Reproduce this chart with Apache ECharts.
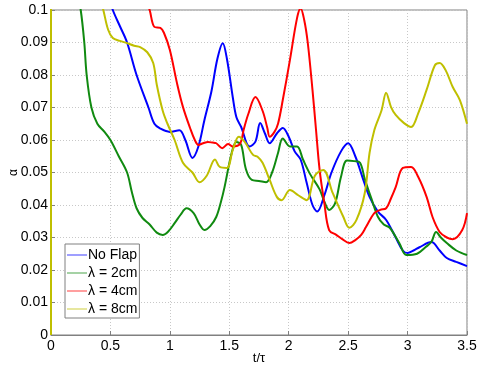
<!DOCTYPE html>
<html><head><meta charset="utf-8">
<script src="https://cdn.jsdelivr.net/npm/echarts@6/dist/echarts.min.js"></script>
<style>html,body{margin:0;padding:0;background:#fff}#c{width:477px;height:370px}</style>
</head><body><div id="c"></div>
<script>
const seriesNames = ['No Flap', 'λ = 2cm', 'λ = 4cm', 'λ = 8cm'];
const xTicks = [0, 0.5, 1, 1.5, 2, 2.5, 3, 3.5];
const yTicks = [0, 0.01, 0.02, 0.03, 0.04, 0.05, 0.06, 0.07, 0.08, 0.09, 0.1];

const tNoFlap = [0,0.45,0.52,0.58,0.64,0.72,0.82,0.87,0.92,1.0,1.08,1.13,1.19,1.24,1.29,1.35,1.40,1.445,1.48,1.53,1.56,1.60,1.67,1.72,1.76,1.80,1.84,1.90,1.95,2.0,2.05,2.10,2.15,2.20,2.24,2.30,2.36,2.44,2.50,2.56,2.62,2.68,2.75,2.82,2.90,2.96,3.0,3.05,3.1,3.2,3.27,3.33,3.41,3.5];
const vNoFlap = [0.13,0.108,0.1,0.095,0.09,0.08,0.07,0.065,0.0635,0.0625,0.063,0.06,0.0545,0.058,0.066,0.075,0.085,0.0898,0.085,0.073,0.067,0.064,0.058,0.0595,0.0652,0.062,0.059,0.062,0.0637,0.061,0.0565,0.054,0.047,0.04,0.038,0.043,0.05,0.0565,0.059,0.055,0.0486,0.0425,0.038,0.0354,0.030,0.026,0.0252,0.026,0.027,0.0286,0.026,0.0237,0.0225,0.0212];

const t2cm = [0,0.2,0.25,0.28,0.30,0.34,0.39,0.45,0.5,0.57,0.64,0.68,0.72,0.77,0.83,0.89,0.94,0.99,1.04,1.09,1.14,1.2,1.25,1.29,1.34,1.39,1.43,1.46,1.52,1.56,1.60,1.64,1.69,1.75,1.81,1.86,1.91,1.95,2.01,2.07,2.12,2.18,2.26,2.30,2.34,2.39,2.44,2.49,2.55,2.6,2.64,2.70,2.75,2.80,2.85,2.93,2.99,3.08,3.15,3.2,3.24,3.28,3.33,3.41,3.5];
const v2cm = [0.15,0.11,0.1,0.09,0.08,0.07,0.065,0.0625,0.060,0.055,0.05,0.044,0.039,0.036,0.034,0.0315,0.0308,0.032,0.0344,0.037,0.039,0.0375,0.034,0.0323,0.0335,0.0363,0.041,0.0455,0.056,0.0594,0.0585,0.051,0.0477,0.0474,0.047,0.05,0.056,0.0605,0.058,0.058,0.054,0.0495,0.0448,0.041,0.0385,0.0405,0.0487,0.0537,0.0535,0.053,0.048,0.0415,0.0364,0.034,0.033,0.0283,0.0246,0.025,0.027,0.0286,0.0317,0.030,0.0283,0.026,0.0246];

const t4cm = [0,0.8,0.83,0.87,0.92,0.95,1.0,1.06,1.11,1.17,1.21,1.24,1.28,1.32,1.36,1.39,1.44,1.49,1.53,1.59,1.62,1.66,1.72,1.78,1.82,1.84,1.88,1.91,1.95,2.01,2.07,2.10,2.13,2.16,2.2,2.23,2.26,2.30,2.34,2.40,2.45,2.51,2.56,2.61,2.65,2.72,2.77,2.82,2.86,2.90,2.96,3.03,3.09,3.16,3.21,3.27,3.33,3.38,3.46,3.5];
const v4cm = [0.2,0.103,0.1,0.0948,0.0945,0.093,0.0877,0.0775,0.0702,0.0637,0.06,0.0585,0.059,0.0594,0.0592,0.059,0.0575,0.0588,0.058,0.0588,0.063,0.068,0.0732,0.069,0.0637,0.061,0.0625,0.065,0.0723,0.0846,0.0975,0.1005,0.097,0.09,0.0754,0.063,0.0508,0.0405,0.0323,0.0308,0.0295,0.0283,0.0292,0.0308,0.0332,0.0375,0.0385,0.039,0.042,0.0455,0.0514,0.0517,0.0486,0.0425,0.0363,0.0317,0.030,0.0295,0.0323,0.0375];

const t8cm = [0,0,0.4,0.44,0.48,0.52,0.58,0.64,0.70,0.75,0.81,0.86,0.89,0.94,0.98,1.04,1.11,1.19,1.25,1.31,1.38,1.42,1.48,1.53,1.58,1.63,1.70,1.74,1.78,1.84,1.9,1.94,2.01,2.08,2.15,2.22,2.29,2.37,2.46,2.51,2.57,2.64,2.68,2.72,2.78,2.82,2.86,2.9,2.97,3.03,3.09,3.16,3.23,3.27,3.32,3.38,3.44,3.5];
const v8cm = [0,0.15,0.105,0.1,0.094,0.0914,0.0905,0.0898,0.089,0.0886,0.087,0.0837,0.077,0.069,0.065,0.06,0.053,0.05,0.047,0.049,0.054,0.0517,0.0514,0.057,0.061,0.0594,0.0554,0.0548,0.053,0.0477,0.0425,0.0415,0.0446,0.043,0.0415,0.049,0.0508,0.0437,0.0363,0.033,0.0354,0.0437,0.056,0.063,0.069,0.0745,0.0702,0.0677,0.0652,0.064,0.0683,0.0754,0.083,0.0837,0.0815,0.0763,0.0723,0.065];

const colors = ['#0000ff', '#108a10', '#ff0000', '#bfbf00'];
const tArr = [tNoFlap, t2cm, t4cm, t8cm];
const vArr = [vNoFlap, v2cm, v4cm, v8cm];

const font = '"Liberation Sans", Arial, sans-serif';
const chart = echarts.init(document.getElementById('c'), null, {renderer: 'canvas'});
const series = seriesNames.map((n, i) => ({
  name: n, type: 'line', smooth: 0.35, showSymbol: false, symbol: 'circle', symbolSize: 3,
  clip: true, z: 2 + i,
  data: tArr[i].map((t, k) => [t, vArr[i][k]]),
  lineStyle: {color: colors[i], width: 2},
  itemStyle: {color: colors[i]}
}));

chart.setOption({
  animation: false,
  backgroundColor: '#fff',
  grid: {left: 51, top: 10, right: 10, bottom: 35, containLabel: false, outerBoundsMode: 'none',
    show: true, borderColor: '#808080', borderWidth: 1, backgroundColor: 'transparent'},
  xAxis: {
    type: 'value', min: 0, max: 3.5, interval: 0.5,
    name: 't/τ', nameLocation: 'middle', nameGap: 17, nameMoveOverlap: false,
    nameTextStyle: {fontFamily: font, fontSize: 13, color: '#000'},
    axisLine: {show: true, lineStyle: {color: '#808080'}},
    axisTick: {show: true, inside: true, length: 4, lineStyle: {color: '#808080'}},
    axisLabel: {fontFamily: font, fontSize: 14, color: '#000', margin: 4,
      formatter: v => { const f = xTicks.find(x => Math.abs(x - v) < 1e-9); return f === undefined ? '' : String(f); }},
    splitLine: {show: true, lineStyle: {color: '#c8c8c8', type: [1, 2], width: 1}}
  },
  yAxis: {
    type: 'value', min: 0, max: 0.1, interval: 0.01,
    name: 'α', nameLocation: 'middle', nameGap: 31, nameRotate: 90, nameMoveOverlap: false,
    nameTextStyle: {fontFamily: font, fontSize: 12, color: '#000'},
    axisLine: {show: true, lineStyle: {color: '#808080'}},
    axisTick: {show: true, inside: true, length: 4, lineStyle: {color: '#808080'}},
    axisLabel: {fontFamily: font, fontSize: 14, color: '#000', margin: 3,
      formatter: v => { const f = yTicks.find(y => Math.abs(y - v) < 1e-9); return f === undefined ? '' : String(f); }},
    splitLine: {show: true, lineStyle: {color: '#c8c8c8', type: [1, 2], width: 1}}
  },
  legend: {
    orient: 'vertical', left: 65, top: 244,
    backgroundColor: '#fff', borderColor: '#808080', borderWidth: 1,
    padding: [4, 2, 2, 2], itemGap: 4, itemWidth: 20, itemHeight: 1.5,
    icon: 'rect',
    textStyle: {fontFamily: font, fontSize: 14, color: '#000', padding: [0, 0, 0, -4], lineHeight: 14},
    data: seriesNames.map((n, i) => ({name: n, itemStyle: {color: colors[i], opacity: 0.5}}))
  },
  series: series
});
</script></body></html>
